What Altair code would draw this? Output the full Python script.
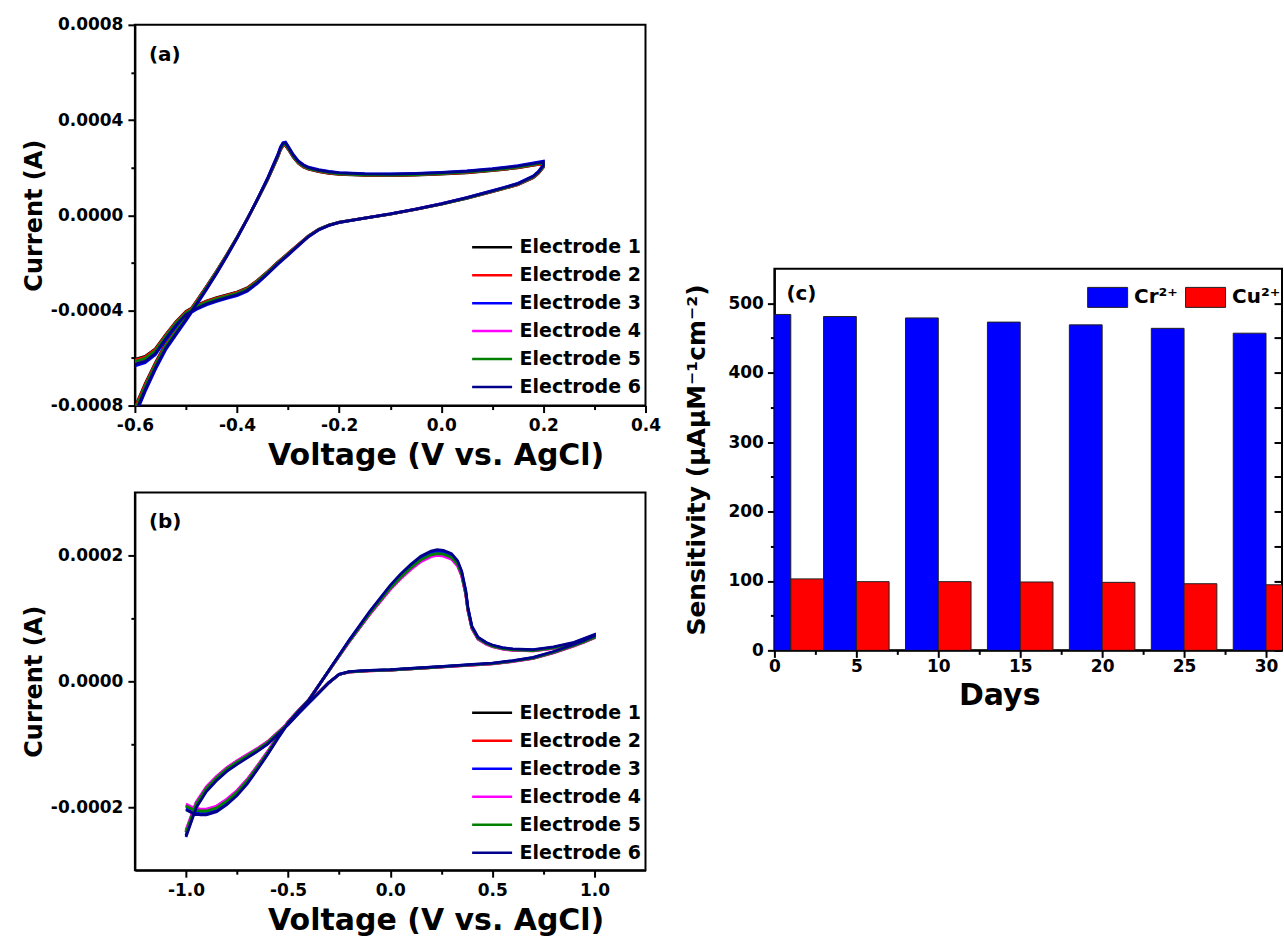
import altair as alt
import pandas as pd

FONT = "DejaVu Sans"

# ---------------- data ----------------
ELECTRODES = ["Electrode 1", "Electrode 2", "Electrode 3", "Electrode 4", "Electrode 5", "Electrode 6"]
ELECTRODE_COLORS = ["#000000", "#ff0000", "#0000ff", "#ff00ff", "#008000", "#00008b"]

# panel (a): forward (anodic) branch, then reverse branch
A_FWD_V = [-0.60, -0.58, -0.56, -0.54, -0.52, -0.50, -0.48, -0.46, -0.44, -0.42, -0.40, -0.38,
           -0.36, -0.34, -0.33, -0.32, -0.315, -0.31, -0.305, -0.30, -0.29, -0.28, -0.27, -0.26,
           -0.24, -0.22, -0.20, -0.15, -0.10, -0.05, 0.00, 0.05, 0.10, 0.15, 0.20]
A_FWD_I = [-0.00082, -0.00072, -0.00063, -0.00055, -0.00049, -0.00043, -0.000368, -0.000304,
           -0.000238, -0.000168, -0.000094, -0.000016, 0.000066, 0.000152, 0.000200, 0.000248,
           0.000278, 0.000296, 0.000298, 0.000282, 0.000248, 0.000222, 0.000206, 0.000196,
           0.000186, 0.000179, 0.000174, 0.000170, 0.000169, 0.000171, 0.000175, 0.000181,
           0.000190, 0.000202, 0.000220]
A_REV_V = [0.20, 0.19, 0.18, 0.15, 0.12, 0.10, 0.05, 0.00, -0.05, -0.10, -0.15, -0.20, -0.22,
           -0.24, -0.26, -0.28, -0.30, -0.32, -0.34, -0.36, -0.38, -0.40, -0.42, -0.44, -0.46,
           -0.48, -0.50, -0.52, -0.54, -0.56, -0.58, -0.60]
A_REV_I = [0.000205, 0.000178, 0.000160, 0.000130, 0.000112, 0.000100, 0.000072, 0.000047,
           0.000025, 0.000005, -0.000012, -0.000030, -0.000042, -0.000060, -0.000088, -0.000125,
           -0.000163, -0.000200, -0.000240, -0.000278, -0.000310, -0.000328, -0.000340, -0.000352,
           -0.000366, -0.000385, -0.000410, -0.000455, -0.000510, -0.000570, -0.000602, -0.000615]
A_ELECTRODE_FACTOR = [0.985, 0.99, 1.03, 1.005, 1.0, 1.02]

# panel (b)
B_FWD_V = [-1.00, -0.97, -0.93, -0.90, -0.85, -0.80, -0.75, -0.70, -0.65, -0.60, -0.55, -0.50,
           -0.45, -0.40, -0.30, -0.20, -0.10, 0.00, 0.05, 0.10, 0.15, 0.20, 0.23, 0.26, 0.30,
           0.33, 0.35, 0.37, 0.38, 0.40, 0.43, 0.47, 0.50, 0.55, 0.60, 0.70, 0.80, 0.90, 1.00]
B_FWD_I = [-0.000198, -0.000203, -0.000206, -0.000206, -0.000201, -0.000190, -0.000176, -0.000158,
           -0.000136, -0.000113, -0.000088, -0.000065, -0.000047, -0.000030, 0.000017, 0.000064,
           0.000108, 0.000148, 0.000165, 0.000180, 0.000193, 0.000201, 0.000203, 0.000202,
           0.000197, 0.000186, 0.000170, 0.000140, 0.000115, 0.000085, 0.000068, 0.000060,
           0.000056, 0.000052, 0.000050, 0.000049, 0.000053, 0.000060, 0.000072]
B_REV_V = [1.00, 0.95, 0.90, 0.80, 0.70, 0.60, 0.50, 0.40, 0.30, 0.20, 0.10, 0.00, -0.10, -0.15,
           -0.20, -0.25, -0.30, -0.35, -0.40, -0.45, -0.50, -0.55, -0.60, -0.65, -0.70, -0.75,
           -0.80, -0.85, -0.90, -0.95, -1.00]
B_REV_I = [0.000070, 0.000063, 0.000057, 0.000046, 0.000037, 0.000032, 0.000028, 0.000026,
           0.000024, 0.000022, 0.000020, 0.000018, 0.000017, 0.000016, 0.000015, 0.000011,
           -0.000002, -0.000018, -0.000034, -0.000050, -0.000067, -0.000082, -0.000097,
           -0.000108, -0.000118, -0.000128, -0.000139, -0.000153, -0.000170, -0.000195, -0.000240]
B_ELECTRODE_FACTOR = [1.0, 0.99, 1.02, 0.985, 1.0, 1.03]

# panel (c)
C_DAYS = [1, 5, 10, 15, 20, 25, 30]
C_CR = [484, 481, 479, 473, 469, 464, 457]
C_CU = [103, 99, 99, 98.5, 98, 96, 94.5]
C_IONS = ["Cr²⁺", "Cu²⁺"]
C_COLORS = ["#0000ff", "#ff0000"]

# tick values
A_X_TICKS = [-0.6, -0.5, -0.4, -0.3, -0.2, -0.1, 0.0, 0.1, 0.2, 0.3, 0.4]
A_Y_TICKS = [-0.0008, -0.0006, -0.0004, -0.0002, 0.0, 0.0002, 0.0004, 0.0006, 0.0008]
B_X_TICKS = [-1.0, -0.75, -0.5, -0.25, 0.0, 0.25, 0.5, 0.75, 1.0]
B_Y_TICKS = [-0.0002, -0.0001, 0.0, 0.0001, 0.0002]
C_X_TICKS = [0, 2.5, 5, 7.5, 10, 12.5, 15, 17.5, 20, 22.5, 25, 27.5, 30]
C_Y_TICKS = [0, 50, 100, 150, 200, 250, 300, 350, 400, 450, 500]

# ---------------- layout constants ----------------
PLOT_W = 511
A_H = 381
B_H = 378
C_W = 508
C_H = 382
MAJOR, MINOR = 7, 4


def cv_frame(fv, fi, rv, ri, factors):
    rows = []
    for name, f in zip(ELECTRODES, factors):
        for k, (v, i) in enumerate(zip(fv + rv, fi + ri)):
            rows.append({"electrode": name, "V": v, "I": i * f, "idx": k})
    return pd.DataFrame(rows)


def signed(fmt):
    return "(datum.value < -1e-12 ? '-' : '') + format(abs(datum.value), '%s')" % fmt


def axis(values, minor_test, fmt, title, **kw):
    return alt.Axis(
        values=values,
        labelExpr="(%s) ? '' : %s" % (minor_test, signed(fmt)),
        tickSize={"condition": {"test": minor_test, "value": MINOR}, "value": MAJOR},
        title=title, grid=False, labelFlush=False, labelOverlap=False, **kw)


def line_legend(x, y):
    return alt.Legend(orient="none", legendX=x, legendY=y, title=None,
                      symbolType="M-1,0H3", symbolSize=400, symbolStrokeWidth=2.5,
                      labelFont=FONT, labelFontSize=19, labelFontWeight="bold",
                      labelColor="black", labelOffset=26, rowPadding=6, padding=0)


def panel_label(txt, x, y):
    return alt.Chart(pd.DataFrame({"t": [txt]})).mark_text(
        font=FONT, fontSize=20, fontWeight="bold", align="left", baseline="middle", color="black"
    ).encode(text="t:N", x=alt.value(x), y=alt.value(y))


def cv_panel(df, xdom, ydom, xt, yt, xminor, yminor, yfmt, h, lx, ly, lab):
    lines = alt.Chart(df).mark_line(strokeWidth=2.8, clip=True).encode(
        x=alt.X("V:Q", scale=alt.Scale(domain=xdom, nice=False, zero=False),
                axis=axis(xt, xminor, ".1f", "Voltage (V vs. AgCl)", titlePadding=7,
                          labelPadding=5, titleX=301, titleFontSize=30)),
        y=alt.Y("I:Q", scale=alt.Scale(domain=ydom, nice=False, zero=False),
                axis=axis(yt, yminor, yfmt, "Current (A)", titlePadding=4, labelPadding=5)),
        color=alt.Color("electrode:N", scale=alt.Scale(domain=ELECTRODES, range=ELECTRODE_COLORS),
                        legend=line_legend(lx, ly)),
        order="idx:Q",
    )
    return alt.layer(lines, panel_label(lab, 14, 30)).properties(width=PLOT_W, height=h)


df_a = cv_frame(A_FWD_V, A_FWD_I, A_REV_V, A_REV_I, A_ELECTRODE_FACTOR)
df_b = cv_frame(B_FWD_V, B_FWD_I, B_REV_V, B_REV_I, B_ELECTRODE_FACTOR)

panel_a = cv_panel(df_a, [-0.6, 0.4], [-0.0008, 0.0008], A_X_TICKS, A_Y_TICKS,
                   "abs(round(datum.value*10)) % 2 == 1", "abs(round(datum.value/0.0002)) % 2 == 1",
                   ".4f", A_H, 336, 211, "(a)")
panel_b = cv_panel(df_b, [-1.25, 1.25], [-0.0003, 0.0003], B_X_TICKS, B_Y_TICKS,
                   "abs(round(datum.value*4)) % 2 == 1", "abs(round(datum.value/0.0001)) % 2 == 1",
                   ".4f", B_H, 336, 209, "(b)")

# ---- panel (c)
rows = []
for d, cr, cu in zip(C_DAYS, C_CR, C_CU):
    rows.append({"day": d, "ion": C_IONS[0], "value": cr, "side": -1})
    rows.append({"day": d, "ion": C_IONS[1], "value": cu, "side": 0})
df_c = pd.DataFrame(rows)

BAR_DAYS = 2
c_base = alt.Chart(df_c).transform_calculate(
    x0=f"datum.day + datum.side * {BAR_DAYS}", x1=f"datum.day + (datum.side + 1) * {BAR_DAYS}")

c_xscale = alt.Scale(domain=[0, C_W / 16.4], nice=False, zero=False)
c_yscale = alt.Scale(domain=[0, 550], nice=False)

bars = c_base.mark_bar(stroke="#202020", strokeWidth=1, clip=True).encode(
    x=alt.X("x0:Q", scale=c_xscale,
            axis=alt.Axis(values=C_X_TICKS, title="Days", grid=False, labelFlush=False,
                          labelOverlap=False, titlePadding=6, titleX=225, labelPadding=1,
                          titleFontSize=30,
                          labelExpr="round(datum.value/2.5) % 2 == 1 ? '' : datum.value + ''",
                          tickSize={"condition": {"test": "round(datum.value/2.5) % 2 == 1", "value": MINOR},
                                    "value": MAJOR})),
    x2="x1:Q",
    y=alt.Y("value:Q", scale=c_yscale,
            axis=alt.Axis(values=C_Y_TICKS, title="Sensitivity (μAμM⁻¹cm⁻²)", grid=False,
                          labelFlush=False, labelOverlap=False, titlePadding=18, titleFontSize=25,
                          labelExpr="round(datum.value/50) % 2 == 1 ? '' : datum.value + ''",
                          tickSize={"condition": {"test": "round(datum.value/50) % 2 == 1", "value": MINOR},
                                    "value": MAJOR})),
    y2=alt.datum(0),
    color=alt.Color("ion:N", scale=alt.Scale(domain=C_IONS, range=C_COLORS),
                    legend=alt.Legend(orient="none", direction="horizontal", legendX=313, legendY=18,
                                      title=None, symbolType="M-1,-1H3V1H-1Z", symbolSize=400,
                                      symbolStrokeColor="#202020", symbolStrokeWidth=1,
                                      labelFont=FONT, labelFontSize=20, labelFontWeight="bold",
                                      labelColor="black", labelOffset=26, columnPadding=5, padding=0)),
)

right_ticks = c_base.mark_bar(opacity=0, clip=True).encode(
    x=alt.X("x0:Q", scale=c_xscale),
    x2="x1:Q",
    y=alt.Y("value:Q", scale=c_yscale,
            axis=alt.Axis(orient="right", values=C_Y_TICKS, labels=False, domain=False, title=None,
                          grid=False, offset=-8, tickSize=8, minExtent=0, maxExtent=0)),
    y2=alt.datum(0),
)

panel_c = alt.layer(bars, right_ticks, panel_label("(c)", 12, 25)).resolve_axis(
    y="independent").properties(width=C_W, height=C_H)

spacer = alt.Chart(pd.DataFrame({"t": [""]})).mark_text().encode(text="t:N").properties(
    width=C_W, height=243, view=alt.ViewBackground(strokeOpacity=0))

left = alt.vconcat(panel_a, panel_b, spacing=20).resolve_scale(color="independent")
right = alt.vconcat(spacer, panel_c, spacing=0).resolve_scale(color="independent")

chart = alt.hconcat(left, right, spacing=21).resolve_scale(color="independent").properties(
    padding={"left": 21, "top": 14.5, "right": 0, "bottom": 0}
).configure(background="white").configure_view(
    stroke="black", strokeWidth=2
).configure_axis(
    domainColor="black", domainWidth=2, tickColor="black", tickWidth=2,
    labelFont=FONT, labelFontSize=17, labelFontWeight="bold", labelColor="black", labelPadding=4,
    titleFont=FONT, titleFontWeight="bold", titleColor="black"
).configure_axisX(titleFontSize=30).configure_axisY(titleFontSize=24)

chart.save("out.html", embed_options={"renderer": "svg", "actions": False})
